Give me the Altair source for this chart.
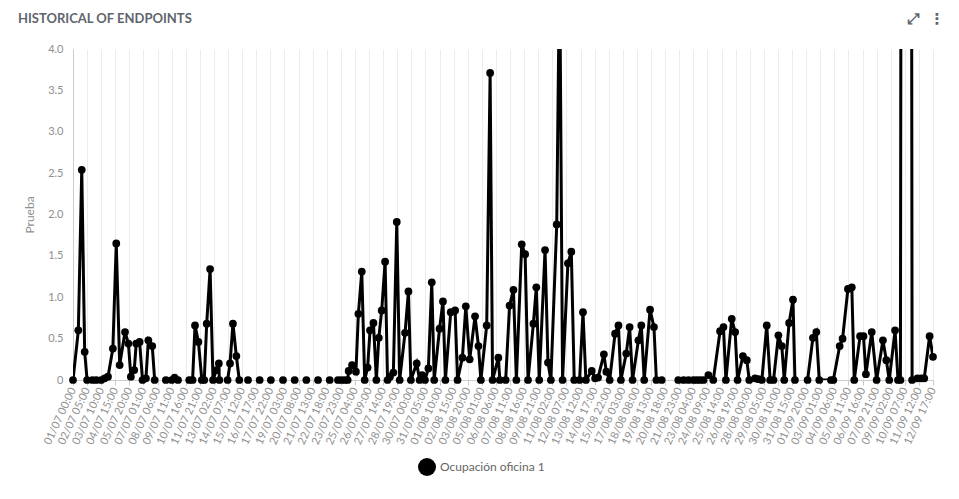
import altair as alt
import pandas as pd

# hours elapsed since 01/07 00:00 for each sample (None value = gap in the series)
hours = [
    0, 11, 18, 24, 29,
    34,
    40, 48, 58, 65, 72, 82, 89, 96, 107, 114, 119, 126, 130, 137, 143, 150, 155, 163, 168,
    180,
    191,
    197,
    203, 209, 216,
    228,
    239, 246, 251, 258, 265, 270, 275, 282, 288, 295, 300, 301,
    310,
    318, 323, 329, 336, 342,
    351, 360, 372, 384, 396, 407, 420, 432, 444, 456, 468, 480, 492, 504, 516, 528, 536,
    545, 552, 559, 565, 567, 574, 582, 587, 594, 600, 606, 611, 618, 624, 629, 635, 642, 647,
    652, 659, 666, 672, 683, 690, 695, 707, 713, 718, 724, 731, 738, 743, 754, 761, 766, 777,
    786, 791, 801, 808, 816, 827, 834, 839, 851, 858, 863, 875, 878,
    884,
    890, 898, 906, 912, 923, 930, 936, 947, 953, 959, 971, 977, 983, 995, 1001, 1007, 1018,
    1025, 1031, 1042, 1049, 1055, 1067, 1074, 1080, 1092, 1097, 1104, 1115, 1122, 1127, 1138,
    1145, 1151, 1163, 1169, 1175, 1187, 1195, 1200, 1211,
    1228,
    1245, 1256, 1266, 1276, 1283, 1290, 1297, 1307, 1317, 1331, 1338, 1343, 1355, 1362, 1367,
    1378, 1386, 1391, 1403, 1410, 1417, 1427, 1434, 1441, 1451, 1458, 1463, 1473, 1481, 1485,
    1498,
    1511, 1522, 1529, 1535, 1559, 1564, 1577, 1583, 1594, 1602, 1607, 1619, 1626, 1631, 1643,
    1653, 1666, 1673, 1679, 1691, 1697, 1702, 1714, 1726, 1737, 1745, 1751, 1762, 1769,
]

values = [
    0, 0.6, 2.54, 0.34, 0,
    None,
    0, 0, 0, 0.02, 0.04, 0.38, 1.65, 0.18, 0.58, 0.44, 0.04, 0.12, 0.44, 0.46, 0, 0.02, 0.48, 0.41, 0,
    None,
    0,
    None,
    0, 0.03, 0,
    None,
    0, 0, 0.66, 0.46, 0, 0, 0.68, 1.34, 0, 0.12, 0.2, 0,
    None,
    0, 0.2, 0.68, 0.29, 0,
    None, 0, None, 0, None, 0, None, 0, None, 0, None, 0, None, 0, None, 0, None,
    0, 0, 0, 0, 0.11, 0.18, 0.1, 0.8, 1.31, 0, 0.15, 0.6, 0.69, 0, 0.51, 0.84, 1.43, 0,
    0.04, 0.09, 1.91, 0, 0.57, 1.07, 0, 0.2, 0, 0.06, 0, 0.14, 1.18, 0, 0.62, 0.95, 0, 0.82,
    0.84, 0, 0.27, 0.89, 0.25, 0.77, 0.41, 0, 0.66, 3.71, 0, 0.27, 0,
    None,
    0, 0.9, 1.09, 0, 1.64, 1.52, 0, 0.68, 1.12, 0, 1.57, 0.21, 0, 1.88, 5.1, 0, 1.41,
    1.55, 0, 0, 0.82, 0, 0.11, 0.02, 0.03, 0.31, 0.1, 0, 0.56, 0.66, 0, 0.32,
    0.64, 0, 0.48, 0.66, 0, 0.85, 0.64, 0, 0,
    None,
    0, 0, 0, 0, 0, 0, 0, 0.06, 0, 0.59, 0.64, 0, 0.74, 0.58, 0,
    0.29, 0.24, 0, 0.02, 0.01, 0, 0.66, 0, 0, 0.54, 0.41, 0, 0.69, 0.97, 0,
    None,
    0, 0.51, 0.58, 0, 0, 0, 0.41, 0.5, 1.1, 1.12, 0, 0.53, 0.53, 0.07, 0.58,
    0, 0.48, 0.24, 0, 0.6, 0, 0, 60, 0, 0.02, 0.02, 0.02, 0.53, 0.28,
]

series_name = "Ocupación oficina 1"
chart_title = "HISTORICAL OF ENDPOINTS"
y_title = "Prueba"
y_ticks = [0, 0.5, 1.0, 1.5, 2.0, 2.5, 3.0, 3.5, 4.0]
y_max = 4
start = pd.Timestamp("2023-07-01T00:00:00Z")
tick_step_hours = 29
n_ticks = 62

n = min(len(hours), len(values))
hours = hours[:n]
values = values[:n]

times = [(start + pd.Timedelta(hours=h)).strftime("%Y-%m-%dT%H:%M:%SZ") for h in hours]
df = pd.DataFrame({"t": times, "v": values, "serie": series_name})

start_ms = int(start.timestamp() * 1000)
tick_values = [start_ms + k * tick_step_hours * 3600 * 1000 for k in range(n_ticks)]

FONT = "Lato"
GREY = "#8f8f8f"

x_enc = alt.X(
    "t:T",
    scale=alt.Scale(type="utc", domain=[tick_values[0], tick_values[-1]]),
    axis=alt.Axis(
        values=tick_values,
        labelExpr="utcFormat(datum.value, '%d/%m %H:%M')",
        labelAngle=-65,
        labelOverlap=False,
        grid=True,
        gridColor="#ececec",
        domainColor="#cccccc",
        tickColor="#cccccc",
        tickSize=5,
        labelColor=GREY,
        labelFontSize=11,
        labelFont=FONT,
        labelPadding=3,
        title=None,
    ),
)
y_enc = alt.Y(
    "v:Q",
    scale=alt.Scale(domain=[0, y_max], nice=False, zero=True),
    axis=alt.Axis(
        values=y_ticks,
        labelExpr="datum.value == 0 ? '0' : format(datum.value, '.1f')",
        grid=False,
        ticks=False,
        domain=True,
        domainColor="#cccccc",
        labelColor=GREY,
        labelFontSize=11,
        labelFont=FONT,
        labelPadding=10,
        title=y_title,
        titleColor=GREY,
        titleFont=FONT,
        titleFontSize=12,
        titleFontWeight="normal",
        titlePadding=11,
    ),
)

base = alt.Chart(df)

line = base.mark_line(
    color="black", strokeWidth=3, clip=True, invalid="break-paths-show-domains"
).encode(x=x_enc, y=y_enc)

points = base.transform_filter(f"isValid(datum.v) && datum.v <= {y_max}").mark_point(
    filled=True, size=60, opacity=1
).encode(
    x=x_enc,
    y=y_enc,
    color=alt.Color(
        "serie:N",
        scale=alt.Scale(range=["#000000"]),
        legend=alt.Legend(
            orient="none",
            legendX=344,
            legendY=408,
            title=None,
            symbolType="circle",
            symbolSize=324,
            symbolOpacity=1,
            labelFontSize=12,
            labelFont=FONT,
            labelColor="#666666",
            labelOffset=3,
            padding=0,
        ),
    ),
)

title_text = alt.Chart(pd.DataFrame({"label": [chart_title]})).mark_text(
    align="left", baseline="middle", font=FONT, fontSize=13, fontWeight="bold", color="#5f656d"
).encode(x=alt.value(-55), y=alt.value(-30), text="label:N")

icons = alt.Chart(pd.DataFrame({"label": ["⤢", "⋮"], "px": [840, 864]})).mark_text(
    align="center", baseline="middle", font="DejaVu Sans", fontSize=15, fontWeight="bold", color="#5f656d"
).encode(x=alt.X("px:Q", scale=None), y=alt.value(-30), text="label:N")

chart = alt.layer(line, points, title_text, icons).properties(
    width=860,
    height=331,
    padding={"left": 65, "top": 41, "right": 18, "bottom": 111},
    autosize=alt.AutoSizeParams(type="none"),
).configure_view(stroke=None)

chart.save("out.html", embed_options={"renderer": "svg", "actions": False})
